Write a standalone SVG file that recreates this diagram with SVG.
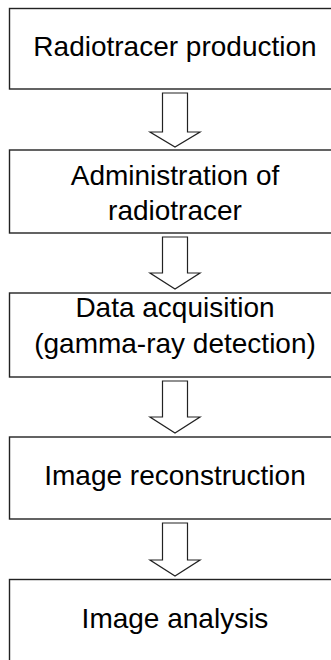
<svg xmlns="http://www.w3.org/2000/svg" width="331" height="660" viewBox="0 0 331 660">
<style>
.box{fill:#fff;stroke:#222;stroke-width:1.4}
.arr{fill:#fff;stroke:#222;stroke-width:1.2;stroke-linejoin:miter}
text{font-family:"Liberation Sans",Arial,sans-serif;font-size:28px;fill:#000;text-anchor:middle}
</style>
<rect width="331" height="660" fill="#fff"/>
<g id="connectors">
<path class="arr" d="M162.5,93 H187.5 V132 H200 L175,147 L150,132 H162.5 Z"/>
<path class="arr" d="M162.5,237 H187.5 V273 H200 L175,289 L150,273 H162.5 Z"/>
<path class="arr" d="M162.5,381 H187.5 V417 H200 L175,433 L150,417 H162.5 Z"/>
<path class="arr" d="M162.5,523 H187.5 V560 H200 L175,576 L150,560 H162.5 Z"/>
</g>
<g id="n1"><rect class="box" x="9.5" y="8.5" width="331" height="80.5"/><text x="175" y="56">Radiotracer production</text></g>
<g id="n2"><rect class="box" x="9.5" y="150" width="331" height="83"/><text x="175" y="185">Administration of</text><text x="175" y="220">radiotracer</text></g>
<g id="n3"><rect class="box" x="9.5" y="293" width="331" height="84"/><text x="175" y="316.5">Data acquisition</text><text x="175" y="352.5">(gamma-ray detection)</text></g>
<g id="n4"><rect class="box" x="9.5" y="437" width="331" height="82"/><text x="175" y="485">Image reconstruction</text></g>
<g id="n5"><rect class="box" x="9.5" y="579.5" width="331" height="82"/><text x="175" y="628">Image analysis</text></g>
</svg>
